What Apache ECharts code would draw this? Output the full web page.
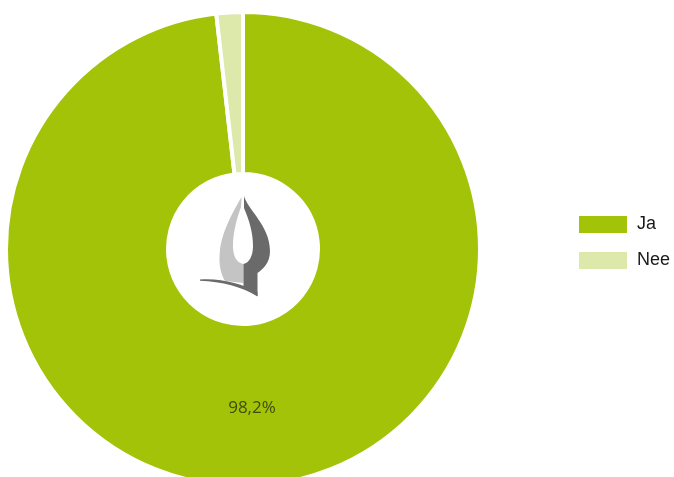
<!DOCTYPE html>
<html>
<head>
<meta charset="utf-8">
<script src="https://cdn.jsdelivr.net/npm/echarts@6/dist/echarts.min.js"></script>
<style>
  html, body { margin: 0; padding: 0; background: #fff; }
  #chart { width: 674px; height: 477px; }
</style>
</head>
<body>
<div id="chart"></div>
<script>
// data
const categories = ['Ja', 'Nee'];
const values = [98.2, 1.8];
const colors = ['#a3c309', '#dde8ab'];

// logo in het midden (svg, coordinaten t.o.v. het canvas, venster 195..275 x 190..300)
const logoSvg =
  '<svg xmlns="http://www.w3.org/2000/svg" width="80" height="110" viewBox="195 190 80 110">' +
  '<path fill="#c4c4c4" d="M241.5,197 C232,214 220,234 219.5,256 C219,268 222,276 225,281 L243.5,283 L243.5,264 C236,263 233,255 233,246 C233,232 237,218 241,207 Z"/>' +
  '<path fill="#6a6a6a" d="M244,196 C248,210 270,226 270,251 C270,263 263,269 257.5,273 L257.5,296 L243.5,288 L243.5,264 C249,263 253,256 253,246 C253,232 249,220 244,208 Z"/>' +
  '<path fill="#6a6a6a" d="M200,279.5 C222,278 242,284 257.5,292 L257.5,296.5 C242,287 222,281.5 200,280.8 Z"/>' +
  '</svg>';

const chart = echarts.init(document.getElementById('chart'));

const option = {
  backgroundColor: '#ffffff',
  animation: false,
  legend: {
    orient: 'vertical',
    left: 572,
    top: 209,
    itemWidth: 50,
    itemHeight: 19,
    itemGap: 15,
    icon: 'rect',
    textStyle: { fontFamily: 'Liberation Sans, Arial', fontSize: 18, color: '#1a1a1a', padding: [0, 0, 0, 4] },
    data: categories
  },
  series: [
    {
      type: 'pie',
      center: [243, 249],
      radius: [75, 237],
      startAngle: 90,
      clockwise: true,
      itemStyle: { borderColor: '#ffffff', borderWidth: 4 },
      label: {
        show: true,
        position: 'inside',
        fontFamily: 'Open Sans',
        fontSize: 17,
        color: '#3f4c0b',
        formatter: (p) => p.value.toFixed(1).replace('.', ',') + '%'
      },
      labelLine: { show: false },
      emphasis: { disabled: true },
      data: categories.map((name, i) => ({
        name,
        value: values[i],
        itemStyle: { color: colors[i] },
        label: { show: i === 0 }
      }))
    }
  ],
  graphic: [
    {
      type: 'image',
      left: 195,
      top: 190,
      z: 10,
      style: {
        image: 'data:image/svg+xml;charset=utf-8,' + encodeURIComponent(logoSvg),
        width: 80,
        height: 110
      }
    }
  ]
};

chart.setOption(option);
</script>
</body>
</html>
